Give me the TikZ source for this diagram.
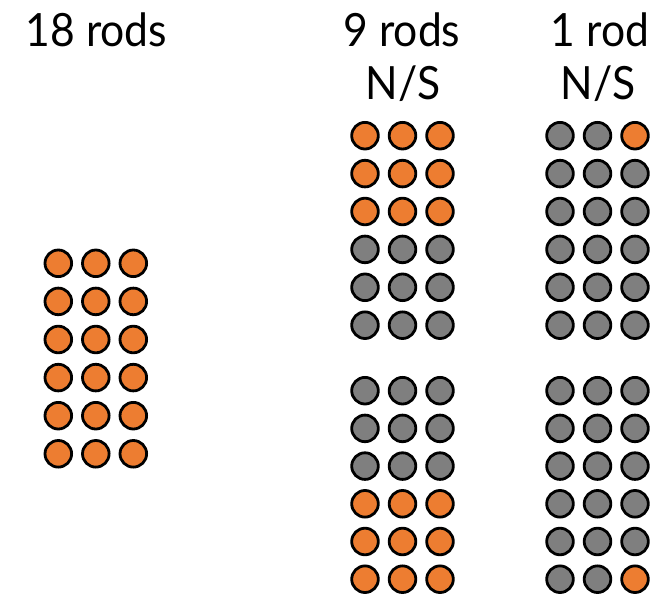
\documentclass[tikz,border=0pt]{standalone}
\usepackage{fontspec}
\setmainfont{Lato}
\definecolor{rodorange}{HTML}{ED7D31}
\definecolor{rodgray}{HTML}{7F7F7F}
\tikzset{
  rod/.style={circle, draw=black, line width=2.8bp, minimum size=26.6bp, inner sep=0pt},
  orangerod/.style={rod, fill=rodorange},
  grayrod/.style={rod, fill=rodgray},
  caption/.style={font=\fontsize{46}{55}\selectfont, anchor=base, inner sep=0pt}
}
\newcommand{\narrowtext}[1]{\scalebox{0.93}[1]{#1}}
\begin{document}
\begin{tikzpicture}[x=1bp,y=-1bp]
\useasboundingbox (0,0) rectangle (667,596);
% captions
\node[caption] (t18) at (96.5,46.7) {\narrowtext{18 rods}};
\node[caption] (t9) at (402,46.7) {\narrowtext{9 rods}};
\node[caption] (t9ns) at (403,100) {\narrowtext{N/S}};
\node[caption] (t1) at (600,46.7) {\narrowtext{1 rod}};
\node[caption] (t1ns) at (598,100) {\narrowtext{N/S}};
% left group: 18 rods
\foreach \r in {0,...,5}{
  \foreach \c in {0,1,2}{
    \node[orangerod] (L-\r-\c) at (58.3+37.5*\c, 263.3+38.1*\r) {};
  }
}
% middle top
\foreach \r in {0,...,5}{
  \foreach \c in {0,1,2}{
    \ifnum\r<3 \def\st{orangerod}\else\def\st{grayrod}\fi
    \node[\st] (MT-\r-\c) at (365+37.5*\c, 135.7+37.9*\r) {};
  }
}
% middle bottom
\foreach \r in {0,...,5}{
  \foreach \c in {0,1,2}{
    \ifnum\r>2 \def\st{orangerod}\else\def\st{grayrod}\fi
    \node[\st] (MB-\r-\c) at (365+37.5*\c, 390.7+37.7*\r) {};
  }
}
% right top
\foreach \r in {0,...,5}{
  \foreach \c in {0,1,2}{
    \def\st{grayrod}
    \ifnum\r=0 \ifnum\c=2 \def\st{orangerod}\fi\fi
    \node[\st] (RT-\r-\c) at (560+37.5*\c, 135.7+37.9*\r) {};
  }
}
% right bottom
\foreach \r in {0,...,5}{
  \foreach \c in {0,1,2}{
    \def\st{grayrod}
    \ifnum\r=5 \ifnum\c=2 \def\st{orangerod}\fi\fi
    \node[\st] (RB-\r-\c) at (560+37.5*\c, 390.7+37.7*\r) {};
  }
}
\end{tikzpicture}
\end{document}
